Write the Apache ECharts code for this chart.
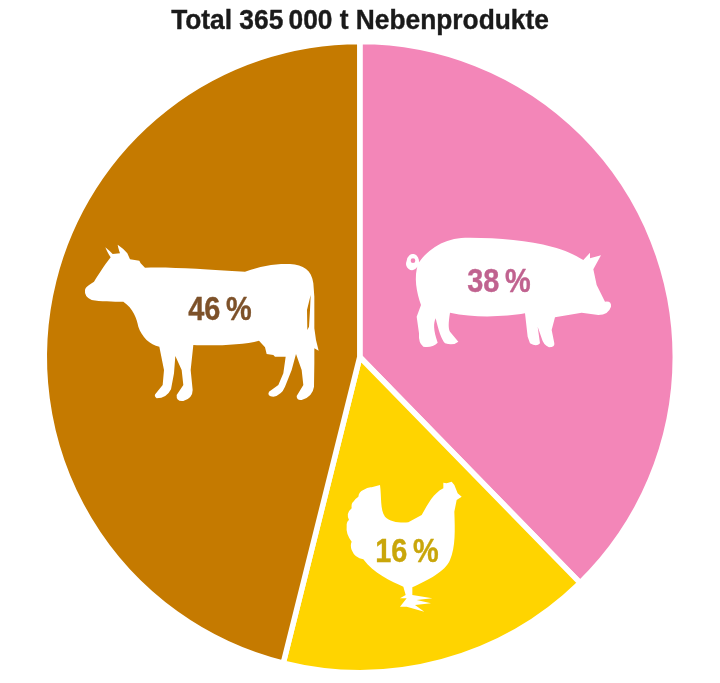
<!DOCTYPE html>
<html><head><meta charset="utf-8">
<style>html,body{margin:0;padding:0;background:#fff}#c{width:720px;height:683px}</style>
<script src="https://cdn.jsdelivr.net/npm/echarts@6/dist/echarts.min.js"></script>
</head><body><div id="c"></div>
<script>
const titleText = 'Total 365\u2009000 t Nebenprodukte';
const categories = ['Schwein', 'Geflügel', 'Rind'];
const values = [37.7, 16.2, 46.1];
const printedPercents = [38, 16, 46];
const sliceColors = ['#f386b8', '#ffd400', '#c57a00'];
const labelColors = ['#c0628f', '#c9a60a', '#7d5129'];
const labelCentres = [[499, 283], [407, 553], [220, 311]];

const cowPath = 'M45 180C46 170 60 163 72 155C85 135 100 110 122 82C115 72 110 62 106 52Q118 62 128 72L150 70C147 60 144 52 143 44Q160 55 172 70L180 88L208 92L212 100L225 113C300 110 400 118 525 125C570 108 620 100 660 102C700 105 725 120 730 160L733 200L733 295L738 330L746 362L733 355L733 400L732 470Q728 500 695 510Q680 512 680 498L700 465L695 420L678 372L665 420L645 470Q635 495 610 500Q590 498 597 485L625 465L640 430L647 380L615 380L610 375L590 372L585 352L567 332C520 345 430 348 370 345L362 420L368 480Q368 505 340 513Q318 515 320 495L340 465L335 420L316 378L312 430L303 478Q290 505 260 505Q250 498 258 490L278 465L282 420L268 350C240 345 215 320 205 290C200 265 190 235 160 215C130 215 90 215 65 210Q42 200 45 180ZM722 195L711 240L712 300L717 290L720 240Z';
const pigPath = 'M70 100C100 55 150 25 210 23C300 22 400 30 470 50C510 60 540 75 565 90L585 68L585 85L618 76L595 118L605 165L630 215Q650 212 648 230Q640 255 610 255L560 248L480 262L470 300L478 340Q480 352 462 352Q445 345 440 325L428 290L435 340Q425 352 405 340L398 320L390 250C330 260 240 265 165 248C160 280 160 295 165 305L190 335Q175 348 150 340C140 330 130 300 122 265C115 280 115 300 128 338Q110 355 85 350Q70 340 72 310L65 260L78 225C65 190 55 140 70 100ZM35 92A18 23 0 1 1 72 100L66 112A18 20 0 0 1 35 92ZM47 92A7 7 0 1 0 61 92A7 7 0 1 0 47 92Z';
const henPath = 'M135 45C140 80 135 120 150 140C165 155 195 160 220 157L260 135C280 100 295 70 325 55L325 38L335 40L350 35L358 45L368 70L380 80L365 90L358 125C360 180 362 230 345 270C330 305 280 330 232 352L232 375L292 385L245 390L288 400L240 405L268 425L215 410L195 410L215 385L195 385L212 375L205 350C170 335 115 310 85 268Q60 265 50 240Q45 225 50 215Q32 190 35 170Q34 155 42 150Q32 130 50 115Q48 100 55 95Q62 85 70 80Q72 65 85 60Q100 50 110 52Z';

const silhouettes = [
  {name: 'cowShape', d: cowPath, x: 70, y: 230},
  {name: 'pigShape', d: pigPath, x: 395, y: 230},
  {name: 'henShape', d: henPath, x: 335, y: 470}
];
silhouettes.forEach(s => echarts.graphic.registerShape(s.name, echarts.graphic.extendPath(s.d)));

const textFont = '"Liberation Sans"';
const chart = echarts.init(document.getElementById('c'), null, {renderer: 'canvas'});
chart.setOption({
  animation: false,
  backgroundColor: '#fff',
  graphic: [
    {
      type: 'text', z: 5, silent: true, x: 360, y: 21, scaleX: 0.94,
      style: {text: titleText, x: 0, y: 0, align: 'center', verticalAlign: 'middle',
        font: 'bold 28px ' + textFont, fill: '#1a1a1a', stroke: '#1a1a1a', lineWidth: 0.4}
    },
    ...silhouettes.map(s => ({
      type: s.name, z: 5, z2: 1, silent: true,
      x: s.x, y: s.y, scaleX: 1 / 3, scaleY: 1 / 3,
      style: {fill: '#fff'}
    })),
    ...printedPercents.map((v, i) => ({
      type: 'text', z: 5, z2: 2, silent: true,
      x: labelCentres[i][0], y: labelCentres[i][1], scaleX: 0.85,
      style: {text: v + '\u2009%', x: 0, y: 0, align: 'center', verticalAlign: 'middle',
        font: 'bold 34px ' + textFont, fill: labelColors[i], stroke: labelColors[i], lineWidth: 0.4}
    }))
  ],
  series: [{
    type: 'pie',
    center: [359.8, 357],
    radius: [0, 315.5],
    startAngle: 90,
    clockwise: true,
    silent: true,
    itemStyle: {borderColor: '#fff', borderWidth: 5.5},
    label: {show: false},
    labelLine: {show: false},
    data: categories.map((n, i) => ({
      name: n, value: values[i],
      itemStyle: {color: sliceColors[i]}
    }))
  }]
});
</script></body></html>
